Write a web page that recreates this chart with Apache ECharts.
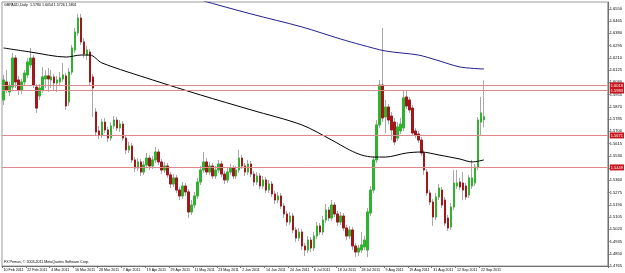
<!DOCTYPE html>
<html>
<head>
<meta charset="utf-8">
<script src="https://cdn.jsdelivr.net/npm/echarts@6/dist/echarts.min.js"></script>
<style>
html, body { margin: 0; padding: 0; background: #fff; }
#chart { width: 625px; height: 273px; }
</style>
</head>
<body>
<div id="chart"></div>
<script>
// GBPAUD daily, 10 Feb 2011 .. 23 Sep 2011
var opens = [
  1.5917, 1.6042, 1.5973, 1.6007, 1.6208, 1.6056, 1.5986, 1.6042, 1.6091, 1.6160,
  1.6208, 1.6007, 1.5945, 1.5986, 1.6063, 1.6084, 1.6056, 1.6077, 1.6035, 1.6042,
  1.6063, 1.6084, 1.5903, 1.6111, 1.6264, 1.6382, 1.6486, 1.6320, 1.6229, 1.6250,
  1.6077, 1.5834, 1.5702, 1.5674, 1.5764, 1.5709, 1.5653, 1.5737, 1.5778, 1.5723,
  1.5750, 1.5653, 1.5570, 1.5598, 1.5501, 1.5445, 1.5487, 1.5417, 1.5466, 1.5514,
  1.5459, 1.5501, 1.5556, 1.5487, 1.5431, 1.5459, 1.5397, 1.5334, 1.5376, 1.5292,
  1.5251, 1.5320, 1.5279, 1.5140, 1.5188, 1.5251, 1.5348, 1.5431, 1.5487, 1.5417,
  1.5459, 1.5390, 1.5431, 1.5473, 1.5403, 1.5362, 1.5417, 1.5445, 1.5390, 1.5431,
  1.5514, 1.5459, 1.5417, 1.5473, 1.5403, 1.5348, 1.5390, 1.5320, 1.5362, 1.5292,
  1.5334, 1.5265, 1.5223, 1.5251, 1.5181, 1.5126, 1.5070, 1.5112, 1.5015, 1.4959,
  1.5001, 1.4904, 1.4876, 1.4945, 1.4890, 1.4973, 1.5043, 1.5001, 1.5084, 1.5154,
  1.5098, 1.5188, 1.5126, 1.5070, 1.5112, 1.5029, 1.4973, 1.5015, 1.4904, 1.4862,
  1.4876, 1.4897, 1.4876, 1.5133, 1.5292, 1.5501, 1.5744, 1.6021, 1.5799, 1.5868,
  1.5806, 1.5764, 1.5653, 1.5702, 1.5723, 1.5938, 1.5917, 1.5861, 1.5702, 1.5681,
  1.5639, 1.5549, 1.5417, 1.5272, 1.5209, 1.5105, 1.5244, 1.5292, 1.5223, 1.5098,
  1.5036, 1.5174, 1.5320, 1.5348, 1.5341, 1.5320, 1.5258, 1.5320, 1.5341, 1.5452,
  1.5764, 1.5780
];
var closes = [
  1.6056, 1.5986, 1.6014, 1.6208, 1.6042, 1.5986, 1.6042, 1.6104, 1.6181, 1.6208,
  1.6021, 1.5861, 1.6000, 1.6077, 1.6084, 1.6063, 1.6077, 1.6035, 1.6056, 1.6070,
  1.6091, 1.5875, 1.6111, 1.6278, 1.6389, 1.6486, 1.6320, 1.6236, 1.6264, 1.6042,
  1.6000, 1.5695, 1.5674, 1.5764, 1.5709, 1.5653, 1.5737, 1.5778, 1.5723, 1.5750,
  1.5653, 1.5570, 1.5598, 1.5501, 1.5445, 1.5487, 1.5417, 1.5466, 1.5514, 1.5459,
  1.5501, 1.5556, 1.5487, 1.5431, 1.5459, 1.5397, 1.5334, 1.5376, 1.5292, 1.5251,
  1.5320, 1.5279, 1.5140, 1.5188, 1.5251, 1.5348, 1.5431, 1.5487, 1.5417, 1.5459,
  1.5390, 1.5431, 1.5473, 1.5403, 1.5362, 1.5417, 1.5445, 1.5390, 1.5431, 1.5514,
  1.5459, 1.5417, 1.5473, 1.5403, 1.5348, 1.5390, 1.5320, 1.5362, 1.5292, 1.5334,
  1.5265, 1.5223, 1.5251, 1.5181, 1.5126, 1.5070, 1.5112, 1.5015, 1.4959, 1.5001,
  1.4904, 1.4876, 1.4945, 1.4890, 1.4973, 1.5043, 1.5001, 1.5084, 1.5154, 1.5098,
  1.5188, 1.5126, 1.5070, 1.5112, 1.5029, 1.4973, 1.5015, 1.4904, 1.4862, 1.4890,
  1.4911, 1.4945, 1.5140, 1.5292, 1.5501, 1.5744, 1.6021, 1.5792, 1.5868, 1.5778,
  1.5709, 1.5626, 1.5730, 1.5750, 1.5931, 1.5875, 1.5848, 1.5688, 1.5674, 1.5639,
  1.5549, 1.5431, 1.5272, 1.5209, 1.5105, 1.5244, 1.5306, 1.5188, 1.5063, 1.5029,
  1.5174, 1.5341, 1.5341, 1.5313, 1.5292, 1.5244, 1.5376, 1.5376, 1.5452, 1.5778,
  1.5827, 1.5801
];
var highs = [
  1.6091, 1.6125, 1.6042, 1.6243, 1.6229, 1.6084, 1.6063, 1.6125, 1.6208, 1.6278,
  1.6229, 1.6028, 1.6028, 1.6146, 1.6125, 1.6139, 1.6125, 1.6097, 1.6084, 1.6111,
  1.6174, 1.6104, 1.6139, 1.6299, 1.6417, 1.6514, 1.6514, 1.6347, 1.6292, 1.6271,
  1.6097, 1.5861, 1.5737, 1.5785, 1.5792, 1.5730, 1.5764, 1.5806, 1.5799, 1.5778,
  1.5771, 1.5674, 1.5626, 1.5619, 1.5521, 1.5514, 1.5507, 1.5494, 1.5549, 1.5535,
  1.5528, 1.5591, 1.5577, 1.5507, 1.5487, 1.5480, 1.5417, 1.5403, 1.5397, 1.5313,
  1.5348, 1.5341, 1.5299, 1.5223, 1.5279, 1.5376, 1.5459, 1.5556, 1.5514, 1.5487,
  1.5480, 1.5459, 1.5501, 1.5494, 1.5424, 1.5445, 1.5473, 1.5466, 1.5459, 1.5570,
  1.5535, 1.5480, 1.5501, 1.5494, 1.5424, 1.5417, 1.5410, 1.5390, 1.5383, 1.5362,
  1.5355, 1.5285, 1.5279, 1.5272, 1.5202, 1.5147, 1.5140, 1.5133, 1.5036, 1.5029,
  1.5022, 1.4925, 1.4973, 1.4966, 1.5001, 1.5070, 1.5063, 1.5112, 1.5195, 1.5174,
  1.5223, 1.5209, 1.5147, 1.5140, 1.5133, 1.5050, 1.5043, 1.5036, 1.4925, 1.4911,
  1.5001, 1.4973, 1.5168, 1.5320, 1.5528, 1.5778, 1.6056, 1.6417, 1.5917, 1.5889,
  1.5834, 1.5792, 1.5764, 1.5792, 1.5986, 1.5986, 1.5938, 1.5882, 1.5723, 1.5702,
  1.5660, 1.5570, 1.5438, 1.5292, 1.5230, 1.5272, 1.5334, 1.5313, 1.5244, 1.5119,
  1.5202, 1.5431, 1.5431, 1.5376, 1.5417, 1.5341, 1.5397, 1.5501, 1.5473, 1.5799,
  1.5938, 1.6054
];
var lows = [
  1.5882, 1.5966, 1.5945, 1.5986, 1.6000, 1.5952, 1.5959, 1.6014, 1.6070, 1.6139,
  1.6000, 1.5827, 1.5917, 1.5966, 1.6000, 1.5973, 1.6000, 1.5986, 1.5973, 1.6021,
  1.6042, 1.5848, 1.5875, 1.6091, 1.6243, 1.6361, 1.6299, 1.6208, 1.6195, 1.6021,
  1.5799, 1.5667, 1.5646, 1.5653, 1.5688, 1.5626, 1.5632, 1.5716, 1.5702, 1.5695,
  1.5632, 1.5542, 1.5549, 1.5480, 1.5417, 1.5424, 1.5390, 1.5397, 1.5445, 1.5431,
  1.5438, 1.5480, 1.5466, 1.5403, 1.5410, 1.5376, 1.5306, 1.5313, 1.5272, 1.5223,
  1.5230, 1.5251, 1.5098, 1.5119, 1.5168, 1.5230, 1.5327, 1.5410, 1.5397, 1.5397,
  1.5369, 1.5369, 1.5410, 1.5383, 1.5334, 1.5341, 1.5397, 1.5369, 1.5369, 1.5410,
  1.5438, 1.5390, 1.5397, 1.5383, 1.5320, 1.5327, 1.5299, 1.5299, 1.5272, 1.5272,
  1.5244, 1.5195, 1.5202, 1.5161, 1.5098, 1.5043, 1.5050, 1.4994, 1.4932, 1.4938,
  1.4876, 1.4834, 1.4855, 1.4862, 1.4869, 1.4952, 1.4980, 1.4980, 1.5063, 1.5077,
  1.5077, 1.5105, 1.5043, 1.5050, 1.5008, 1.4945, 1.4952, 1.4876, 1.4827, 1.4834,
  1.4855, 1.4876, 1.4827, 1.5112, 1.5272, 1.5480, 1.5723, 1.5764, 1.5688, 1.5750,
  1.5639, 1.5605, 1.5632, 1.5681, 1.5702, 1.5855, 1.5827, 1.5667, 1.5653, 1.5619,
  1.5528, 1.5397, 1.5251, 1.5188, 1.5043, 1.5084, 1.5223, 1.5168, 1.5043, 1.5008,
  1.5015, 1.5154, 1.5299, 1.5292, 1.5223, 1.5223, 1.5237, 1.5299, 1.5320, 1.5431,
  1.5674, 1.5726
];

// moving averages, read at a few bar indices
var blueIdx = [60, 66, 83, 100, 113, 120, 128, 139, 145, 153, 161];
var blueVal = [1.6653, 1.6611, 1.6514, 1.6424, 1.6340, 1.6299, 1.6257, 1.6229, 1.6195, 1.6146, 1.6132];
var blackIdx = [0, 9, 21, 26, 29, 33, 50, 66, 83, 100, 110, 116, 120, 124, 128, 135, 140, 146, 153, 157, 161];
var blackVal = [1.6278, 1.6250, 1.6215, 1.6229, 1.6229, 1.6174, 1.6056, 1.5952, 1.5848, 1.5744, 1.5639,
                1.5570, 1.5535, 1.5521, 1.5521, 1.5549, 1.5556, 1.5535, 1.5507, 1.5487, 1.5501];

// horizontal levels and last price
var levels = [1.6018, 1.5983, 1.5671, 1.5449];
var lastPrice = 1.5801;

// price scale tick labels
var yTicks = [1.4765, 1.4850, 1.4935, 1.5020, 1.5105, 1.5190, 1.5275, 1.5360, 1.5445, 1.5530, 1.5615,
              1.5700, 1.5785, 1.5870, 1.5955, 1.6040, 1.6125, 1.6210, 1.6295, 1.6380, 1.6465, 1.6550];

var startDate = new Date(2011, 1, 10);
var slots = 203;

var months = ['Jan','Feb','Mar','Apr','May','Jun','Jul','Aug','Sep','Oct','Nov','Dec'];
var dates = [];
var d = new Date(startDate);
while (dates.length < opens.length) {
  if (d.getDay() !== 0 && d.getDay() !== 6) {
    dates.push(d.getDate() + ' ' + months[d.getMonth()] + ' ' + d.getFullYear());
  }
  d.setDate(d.getDate() + 1);
}
var cats = dates.slice();
while (cats.length < slots) cats.push('');

var fullCandles = opens.map(function (o, i) { return [o, closes[i], lows[i], highs[i]]; });
var bodies = opens.map(function (o, i) {
  return [o, closes[i], Math.min(o, closes[i]), Math.max(o, closes[i])];
});
var blueLine = blueIdx.map(function (x, i) { return [x, blueVal[i]]; });
var blackLine = blackIdx.map(function (x, i) { return [x, blackVal[i]]; });

var showLabel = function (idx) { return idx % 8 === 0 && idx < dates.length; };
var font = 'Liberation Sans';
var levelColor = '#dc8a8a';

function priceTag(v, bg, hideLine) {
  return {
    yAxis: v,
    lineStyle: hideLine ? { opacity: 0 } : { color: levelColor, width: 1, type: 'solid' },
    label: {
      show: true, position: 'end', distance: 2, formatter: v.toFixed(4),
      fontSize: 4, color: '#fff', backgroundColor: bg, padding: [1, 1]
    }
  };
}

var chart = echarts.init(document.getElementById('chart'));
chart.setOption({
  animation: false,
  backgroundColor: '#fff',
  textStyle: { fontFamily: font },
  grid: { left: 2, right: 14, top: 2, bottom: 7, show: true, borderColor: '#9a9a9a', borderWidth: 1 },
  xAxis: {
    type: 'category',
    data: cats,
    boundaryGap: true,
    axisLine: { lineStyle: { color: '#707070' } },
    axisTick: { show: true, interval: showLabel, length: 2, lineStyle: { color: '#707070' } },
    axisLabel: { interval: showLabel, fontSize: 3.6, color: '#000', align: 'left', margin: 1.5 },
    splitLine: { show: false }
  },
  yAxis: {
    type: 'value',
    position: 'right',
    min: 1.4765,
    max: 1.6597,
    scale: true,
    axisLine: { show: true, lineStyle: { color: '#707070' } },
    axisTick: { show: true, length: 2, customValues: yTicks, lineStyle: { color: '#707070' } },
    axisLabel: {
      fontSize: 4, color: '#000', margin: 2, customValues: yTicks,
      formatter: function (v) { return v.toFixed(4); }
    },
    splitLine: { show: false }
  },
  series: [
    {
      type: 'candlestick',
      data: fullCandles,
      barWidth: 2,
      itemStyle: { color: '#2fb32f', color0: '#a0171c', borderColor: '#a8a8a8', borderColor0: '#a8a8a8', borderWidth: 1 }
    },
    {
      type: 'candlestick',
      data: bodies,
      barWidth: 2,
      itemStyle: { color: '#2fb32f', color0: '#a0171c', borderColor: '#2fb32f', borderColor0: '#a0171c', borderWidth: 1 }
    },
    {
      type: 'line',
      data: blackLine,
      showSymbol: false,
      smooth: 0.3,
      lineStyle: { color: '#000', width: 1 },
      z: 3
    },
    {
      type: 'line',
      data: blueLine,
      showSymbol: false,
      smooth: 0.3,
      clip: true,
      lineStyle: { color: '#20208c', width: 1 },
      z: 3,
      markLine: {
        silent: true,
        symbol: 'none',
        precision: 4,
        animation: false,
        lineStyle: { color: levelColor, width: 1, type: 'solid' },
        data: levels.map(function (v) { return priceTag(v, '#c8161c', false); })
          .concat([priceTag(lastPrice, '#000', true)])
      }
    }
  ],
  graphic: [
    { type: 'text', left: 4, top: 3, style: { text: 'GBPAUD,Daily  1.5780 1.6054 1.5726 1.5801', fontSize: 3.6, fill: '#000', fontFamily: font } },
    { type: 'text', left: 4, top: 260, style: { text: 'FX Primus, © 2003-2011 MetaQuotes Software Corp.', fontSize: 3.6, fill: '#000', fontFamily: font } }
  ]
});
</script>
</body>
</html>
